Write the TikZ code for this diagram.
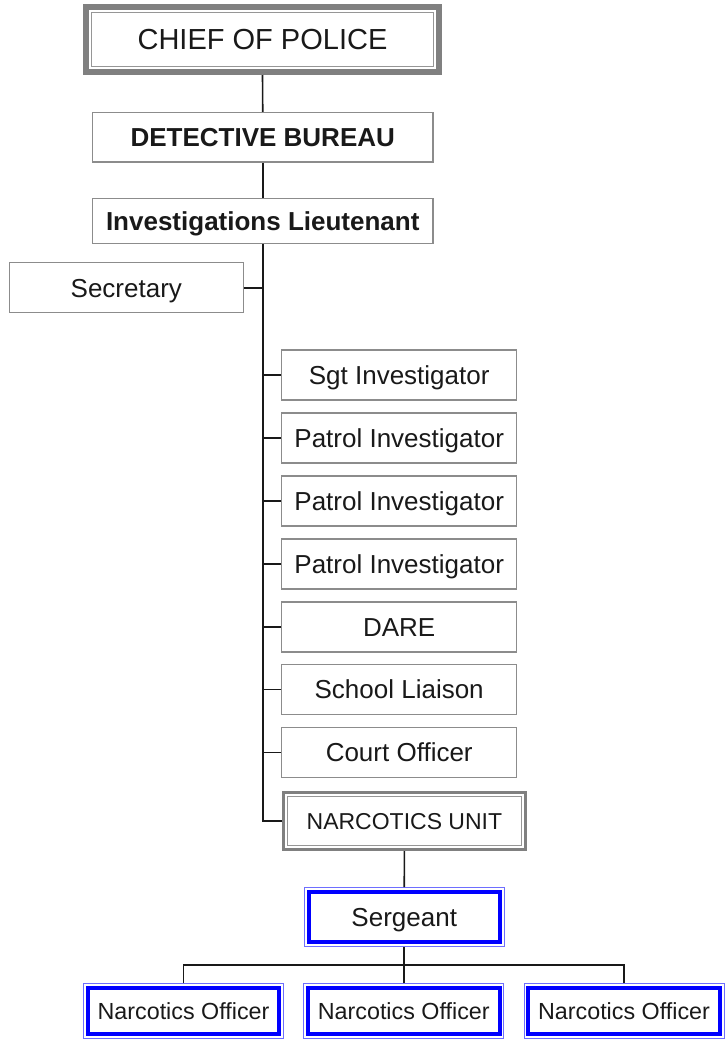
\documentclass[tikz,border=0pt]{standalone}
\usepackage{fontspec}
\setmainfont{Liberation Sans}
\usetikzlibrary{calc}
\definecolor{boxgray}{RGB}{140,140,140}
\definecolor{chiefgray}{RGB}{128,128,128}
\definecolor{chiefinner}{RGB}{150,150,150}
\definecolor{lineblue}{RGB}{0,0,255}
\definecolor{lightblue}{RGB}{110,110,255}
\definecolor{textc}{RGB}{25,25,25}
\tikzset{
  conn/.style={draw=black!90, line width=1.6pt},
  box/.style={draw=boxgray, line width=1.3pt, inner sep=0pt, text=textc,
    font=\fontsize{26}{28}\selectfont, text height=18.6pt, text depth=0pt, align=center},
  rbox/.style={box, minimum width=235pt, minimum height=50pt},
  chiefbox/.style={box, draw=chiefgray, line width=6pt,
    font=\fontsize{29}{31}\selectfont, text height=20.8pt,
    path picture={\draw[draw=chiefinner, line width=1.3pt]
      ([shift={(5.5pt,5.5pt)}]path picture bounding box.south west) rectangle
      ([shift={(-5.5pt,-5.5pt)}]path picture bounding box.north east);}},
  unitbox/.style={box, draw=chiefgray, line width=3pt,
    font=\fontsize{23}{25}\selectfont, text height=16.5pt,
    path picture={\draw[draw=chiefinner, line width=1.3pt]
      ([shift={(4pt,4pt)}]path picture bounding box.south west) rectangle
      ([shift={(-4pt,-4pt)}]path picture bounding box.north east);}},
  bluebox/.style={box, draw=lightblue, line width=1pt,
    path picture={\draw[draw=lineblue, line width=4pt]
      ([shift={(4.2pt,4.2pt)}]path picture bounding box.south west) rectangle
      ([shift={(-4.2pt,-4.2pt)}]path picture bounding box.north east);}},
  officerbox/.style={bluebox, minimum width=200pt, minimum height=55pt,
    font=\fontsize{23.3}{25}\selectfont, text height=16.7pt},
  boldbox/.style={box, font=\fontsize{26}{28}\selectfont\bfseries}
}
\begin{document}
\begin{tikzpicture}[x=1pt,y=-1pt]
\useasboundingbox (0,0) rectangle (724,1039);
\node[chiefbox, minimum width=353pt, minimum height=65pt] (chief) at (262.5,39.5) {CHIEF OF POLICE};
\node[boldbox, minimum width=340.5pt, minimum height=49.5pt] (det) at (262.75,137.25) {DETECTIVE BUREAU};
\node[boldbox, minimum width=340.5pt, minimum height=45pt] (lt) at (262.75,220.8) {Investigations Lieutenant};
\node[box, minimum width=234pt, minimum height=50pt] (sec) at (126.3,287.7) {Secretary};
\node[rbox] (sgt) at (399.2,375) {Sgt Investigator};
\node[rbox] (p1) at (399.2,438) {Patrol Investigator};
\node[rbox] (p2) at (399.2,501) {Patrol Investigator};
\node[rbox] (p3) at (399.2,564) {Patrol Investigator};
\node[rbox] (dare) at (399.2,627) {DARE};
\node[rbox] (school) at (399.2,689.5) {School Liaison};
\node[rbox] (court) at (399.2,752.5) {Court Officer};
\node[unitbox, minimum width=241.8pt, minimum height=57pt] (nu) at (404.4,821) {NARCOTICS UNIT};
\node[bluebox, minimum width=199.5pt, minimum height=59pt] (serg) at (404.25,917) {Sergeant};
\node[officerbox] (o1) at (183.5,1011) {Narcotics Officer};
\node[officerbox] (o2) at (403.75,1011) {Narcotics Officer};
\node[officerbox] (o3) at (624,1011) {Narcotics Officer};
\coordinate (bus) at (404.25,965);
% connectors
\draw[conn] (chief.south) -- (det.north);
\draw[conn] (det.south) -- (lt.north);
\draw[conn] (lt.south) |- (nu.west);
\draw[conn] (sec.east) -- (sec.east -| lt.south);
\foreach \n in {sgt,p1,p2,p3,dare,school,court}{
  \draw[conn] (\n.west) -- (\n.west -| lt.south);
}
\draw[conn] (nu.south) -- (serg.north);
\draw[conn] (serg.south) -- (bus);
\draw[conn] (o1.north) |- (bus) -| (o3.north);
\draw[conn] (o2.north) -- (o2.north |- bus);
\end{tikzpicture}
\end{document}
